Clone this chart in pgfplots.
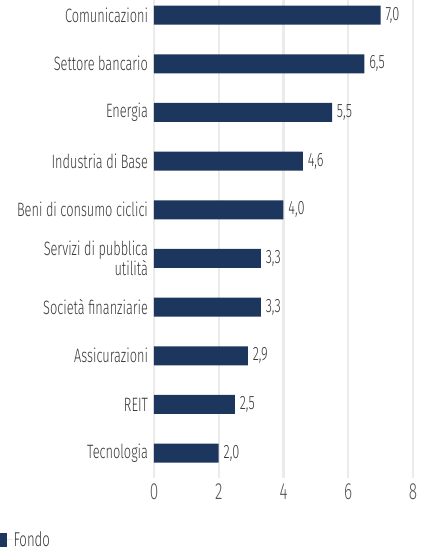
\documentclass[border=0pt]{standalone}
\usepackage{pgfplots}
\pgfplotsset{compat=1.18}
\usepackage{fontspec}
\setmainfont{Fira Sans Light}[FakeStretch=0.66]
\definecolor{barblue}{RGB}{28,54,94}
\definecolor{gridgray}{RGB}{235,235,235}
\definecolor{txt}{RGB}{55,55,55}
\begin{document}
\begin{tikzpicture}[x=0.75pt,y=0.75pt]
\useasboundingbox (-154,0) rectangle (273,-552);
\begin{axis}[
    at={(0,0)}, anchor=north west,
    scale only axis,
    width=194.25pt, height=358.5pt,
    xbar, bar width=14.25pt,
    xmin=0, xmax=8,
    ymin=-0.51, ymax=9.31,
    xtick={0,2,4,6,8},
    ytick={0,...,9},
    yticklabels={Tecnologia, REIT, Assicurazioni, Società finanziarie,
        {Servizi di pubblica\\utilità}, Beni di consumo ciclici,
        Industria di Base, Energia, Settore bancario, Comunicazioni},
    /pgf/number format/assume math mode=true,
    axis line style={draw=none},
    major tick length=0pt,
    xmajorgrids,
    major grid style={gridgray, line width=1.8pt},
    xticklabel style={font=\fontsize{17.5}{17.5}\selectfont, text=txt!85, yshift=-1pt},
    yticklabel style={font=\fontsize{14.5}{11}\selectfont, align=right, text=txt, xshift=-1pt},
    nodes near coords={\pgfmathprintnumber[fixed,fixed zerofill,precision=1,use comma,assume math mode=true]{\pgfplotspointmeta}},
    nodes near coords style={font=\fontsize{14.5}{14.5}\selectfont, text=txt, anchor=west, inner sep=0pt, xshift=3.5pt},
    legend style={at={(-0.5946,-0.1297)}, anchor=west, draw=none, fill=none,
        inner sep=0pt, font=\fontsize{15}{15}\selectfont, text=txt,
        nodes={inner sep=1pt}},
    legend cell align=left,
    legend image code/.code={\fill[#1] (0pt,-5pt) rectangle (5.25pt,5pt);
        \path (0pt,0pt) -- (9pt,0pt);},
]
\addplot[fill=barblue, draw=none] coordinates {
    (2.0,0) (2.5,1) (2.9,2) (3.3,3) (3.3,4) (4.0,5) (4.6,6) (5.5,7) (6.5,8) (7.0,9)
};
\legend{Fondo}
\end{axis}
\end{tikzpicture}
\end{document}
